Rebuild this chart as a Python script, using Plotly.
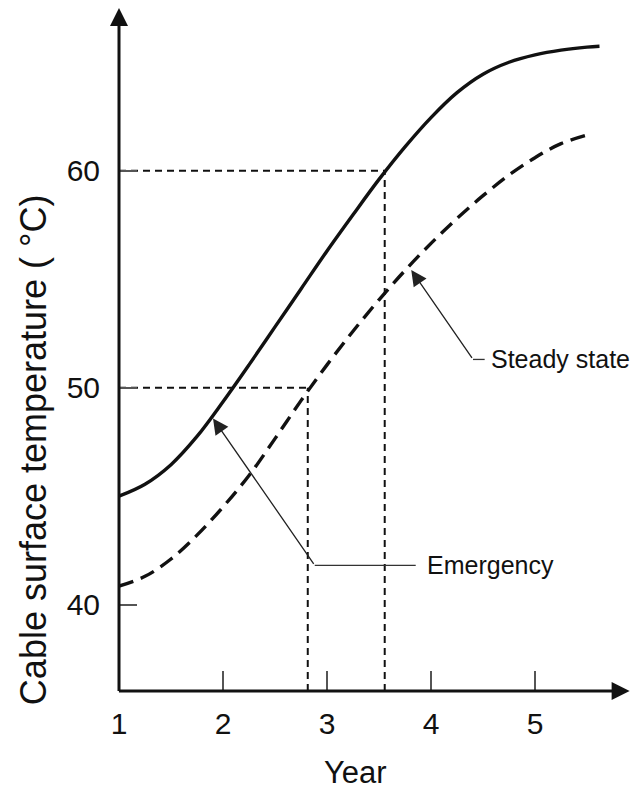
import plotly.graph_objects as go

# Cable surface temperature vs. year for two loading conditions
years_emergency = [1.0, 1.25, 1.5, 1.75, 2.0, 2.25, 2.5, 2.75, 3.0, 3.25, 3.5,
                   3.75, 4.0, 4.25, 4.5, 4.75, 5.0, 5.25, 5.5, 5.62]
temp_emergency = [45.0, 45.55, 46.45, 47.75, 49.35, 51.05, 52.8, 54.55, 56.3, 57.97, 59.6,
                  61.1, 62.45, 63.6, 64.45, 65.0, 65.34, 65.56, 65.7, 65.74]

years_steady = [1.0, 1.25, 1.5, 1.75, 2.0, 2.25, 2.5, 2.75, 3.0, 3.25, 3.5,
                3.75, 4.0, 4.25, 4.5, 4.75, 5.0, 5.25, 5.54]
temp_steady = [40.85, 41.3, 42.1, 43.2, 44.5, 45.95, 47.65, 49.4, 51.05, 52.6, 54.05,
               55.4, 56.65, 57.8, 58.85, 59.8, 60.6, 61.25, 61.7]

# Reference levels and the years at which they are reached
level_steady_50 = (2.815, 50)
level_emergency_60 = (3.555, 60)

x_ticks = [1, 2, 3, 4, 5]
x_ticktext = ["1", "2", "3", "4", "5"]
y_ticks = [40, 50, 60]
y_ticktext = ["40", "50", "60"]

x_range = [1.0, 5.923]
y_range = [36.015, 67.87]

# Callout positions: arrow tip, elbow, end of horizontal leader, text anchor
emergency_callout = dict(tip=(1.904, 48.58), elbow=(2.882, 41.81), end=3.853, text_x=3.94)
steady_callout = dict(tip=(3.81, 55.42), elbow=(4.404, 51.30), end=4.516, text_x=4.56)

FONT = "Liberation Sans, Arial, Helvetica, sans-serif"
INK = "#111111"

fig = go.Figure()

fig.add_trace(go.Scatter(
    x=years_emergency, y=temp_emergency, mode="lines",
    line=dict(color=INK, width=3.4, shape="spline", smoothing=1.0),
    name="Emergency", showlegend=False, hoverinfo="skip"))

fig.add_trace(go.Scatter(
    x=years_steady, y=temp_steady, mode="lines",
    line=dict(color=INK, width=3.4, dash="15px,8px", shape="spline", smoothing=1.0),
    name="Steady state", showlegend=False, hoverinfo="skip"))

guide = dict(color=INK, width=2, dash="7px,5px")
for yr, t in (level_steady_50, level_emergency_60):
    fig.add_shape(type="line", x0=x_range[0], x1=yr, y0=t, y1=t, line=guide, layer="below")
    fig.add_shape(type="line", x0=yr, x1=yr, y0=y_range[0], y1=t, line=guide, layer="below")

annotations = []

# Axes drawn as arrows
annotations.append(dict(x=5.91, y=y_range[0], ax=x_range[0] - 0.015, ay=y_range[0],
                        xref="x", yref="y", axref="x", ayref="y", text="",
                        showarrow=True, arrowhead=2, arrowwidth=3, arrowsize=1.2,
                        arrowcolor=INK, standoff=0))
annotations.append(dict(x=x_range[0], y=67.5, ax=x_range[0], ay=y_range[0] - 0.07,
                        xref="x", yref="y", axref="x", ayref="y", text="",
                        showarrow=True, arrowhead=2, arrowwidth=3, arrowsize=1.2,
                        arrowcolor=INK, standoff=0))

for label, c in (("Emergency", emergency_callout), ("Steady state", steady_callout)):
    annotations.append(dict(x=c["tip"][0], y=c["tip"][1], ax=c["elbow"][0], ay=c["elbow"][1],
                            xref="x", yref="y", axref="x", ayref="y", text="",
                            showarrow=True, arrowhead=2, arrowwidth=1.3, arrowsize=2.4,
                            arrowcolor="#222222", standoff=0))
    fig.add_shape(type="line", x0=c["elbow"][0], x1=c["end"], y0=c["elbow"][1], y1=c["elbow"][1],
                  line=dict(color="#333333", width=1.3))
    annotations.append(dict(x=c["text_x"], y=c["elbow"][1], xref="x", yref="y",
                            text=label, showarrow=False, xanchor="left", yanchor="middle",
                            font=dict(family=FONT, size=25, color=INK)))

# Axis titles
annotations.append(dict(x=-0.168, y=0.35, xref="paper", yref="paper",
                        text="Cable surface temperature ( °C)", textangle=-90, showarrow=False,
                        xanchor="center", yanchor="middle",
                        font=dict(family=FONT, size=36, color=INK)))
annotations.append(dict(x=0.462, y=-0.146, xref="paper", yref="paper",
                        text="Year", showarrow=False, xanchor="center", yanchor="bottom",
                        font=dict(family=FONT, size=31, color=INK)))

fig.update_layout(
    width=631, height=792,
    margin=dict(l=119, r=0, t=0, b=101),
    paper_bgcolor="white", plot_bgcolor="white",
    showlegend=False,
    annotations=annotations,
    xaxis=dict(range=x_range, tickvals=x_ticks, ticktext=x_ticktext,
               ticks="inside", ticklen=20, tickwidth=1.5, tickcolor="#555555",
               showgrid=False, zeroline=False, showline=False,
               ticklabelstandoff=12,
               tickfont=dict(family=FONT, size=30, color=INK)),
    yaxis=dict(range=y_range, tickvals=y_ticks, ticktext=y_ticktext,
               ticks="inside", ticklen=18, tickwidth=1.5, tickcolor="#555555",
               showgrid=False, zeroline=False, showline=False,
               ticklabelstandoff=18,
               tickfont=dict(family=FONT, size=30, color=INK)),
)

fig.write_html("out.html")
